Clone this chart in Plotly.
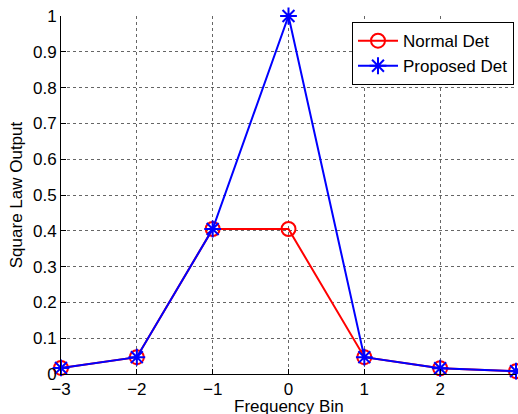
import plotly.graph_objects as go

# Frequency bins and detector outputs
bins = [-3, -2, -1, 0, 1, 2, 3]
normal_det = [0.017, 0.047, 0.405, 0.405, 0.047, 0.016, 0.008]
proposed_det = [0.017, 0.047, 0.405, 1.0, 0.047, 0.016, 0.008]

x_ticks = [-3, -2, -1, 0, 1, 2, 3]
y_ticks = [0, 0.1, 0.2, 0.3, 0.4, 0.5, 0.6, 0.7, 0.8, 0.9, 1]

FS = 17

fig = go.Figure()
fig.add_trace(go.Scatter(
    x=bins, y=normal_det, name="Normal Det", mode="lines+markers",
    line=dict(color="#ff0000", width=2),
    marker=dict(symbol="circle-open", size=14, color="#ff0000", line=dict(width=2)),
    cliponaxis=False,
))
fig.add_trace(go.Scatter(
    x=bins, y=proposed_det, name="Proposed Det", mode="lines+markers",
    line=dict(color="#0000ff", width=2),
    marker=dict(symbol="asterisk-open", size=14, color="#0000ff", line=dict(width=2, color="#0000ff")),
    cliponaxis=False,
))

axis_common = dict(
    showline=True, linecolor="black", linewidth=1,
    ticks="inside", ticklen=5, tickcolor="black",
    showgrid=True, gridcolor="#666666", griddash="dot", gridwidth=1,
    zeroline=False, mirror=False,
    tickfont=dict(size=FS, color="black"),
)

fig.update_xaxes(range=[-3, 3], tickvals=x_ticks, **axis_common)
fig.update_yaxes(
    range=[0, 1], tickvals=y_ticks, ticktext=[f"{v:g}" for v in y_ticks],
    title=dict(text="Square Law Output", font=dict(size=FS, color="black"), standoff=6),
    **axis_common,
)

# x-axis title placed just below the tick labels
fig.add_annotation(
    text="Frequency Bin", xref="paper", yref="paper",
    x=0.5, y=-0.06, xanchor="center", yanchor="top",
    showarrow=False, font=dict(size=FS, color="black"),
)

fig.update_layout(
    width=518, height=414,
    margin=dict(l=61, r=2, t=16, b=40),
    paper_bgcolor="white", plot_bgcolor="white",
    font=dict(family="Liberation Sans, Arial, sans-serif", color="black"),
    legend=dict(
        x=0.9956, y=0.983, xanchor="right", yanchor="top",
        bgcolor="white", bordercolor="black", borderwidth=1,
        font=dict(size=FS, color="black"),
        tracegroupgap=0, itemwidth=40,
    ),
)

fig.write_html("out.html")
